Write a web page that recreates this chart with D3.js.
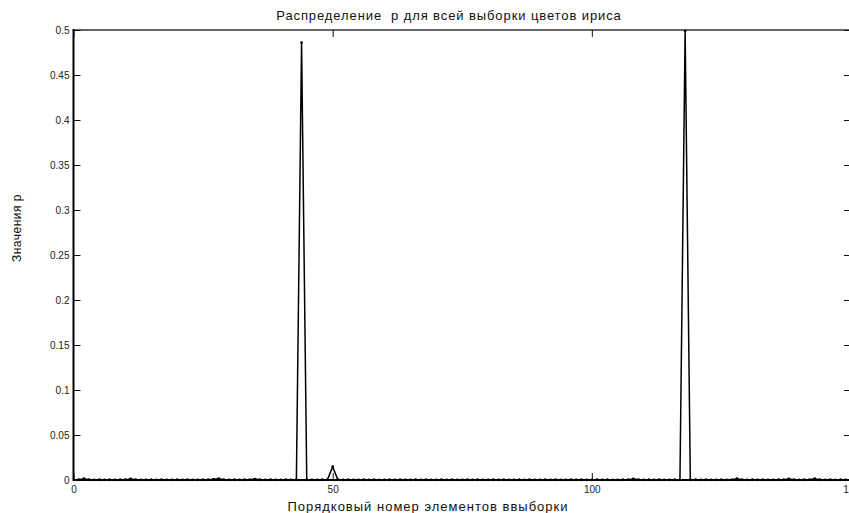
<!DOCTYPE html>
<html><head><meta charset="utf-8">
<script src="https://cdn.jsdelivr.net/npm/d3@7"></script>
<style>
html,body{margin:0;padding:0;background:#fff;}
svg{display:block;font-family:"Liberation Sans",Arial,sans-serif;}
</style></head>
<body>
<svg id="chart" width="849" height="513"></svg>
<script>
// Data (index 1..150)
const titleText = "Распределение  р для всей выборки цветов ириса";
const xLabel = "Порядковый номер элементов ввыборки";
const yLabel = "Значения р";
const xTicks = [0, 50, 100, 150];
const yTicks = [0, 0.05, 0.1, 0.15, 0.2, 0.25, 0.3, 0.35, 0.4, 0.45, 0.5];
const pValues = [
  0.0003, 0.0015, 0.0004, 0.0002, 0.0003, 0.0002, 0.0003, 0.0002, 0.0003, 0.0004,
  0.0012, 0.0003, 0.0002, 0.0002, 0.0003, 0.0002, 0.0003, 0.0002, 0.0002, 0.0003,
  0.0002, 0.0003, 0.0002, 0.0002, 0.0003, 0.0004, 0.0008, 0.0015, 0.0004, 0.0002,
  0.0003, 0.0002, 0.0003, 0.0004, 0.0010, 0.0003, 0.0002, 0.0003, 0.0002, 0.0002,
  0.0003, 0.0002, 0.0003, 0.4860, 0.0003, 0.0002, 0.0002, 0.0003, 0.0004, 0.0148,
  0.0003, 0.0002, 0.0003, 0.0002, 0.0002, 0.0003, 0.0002, 0.0003, 0.0002, 0.0002,
  0.0003, 0.0002, 0.0003, 0.0002, 0.0002, 0.0003, 0.0002, 0.0003, 0.0002, 0.0002,
  0.0003, 0.0002, 0.0003, 0.0002, 0.0002, 0.0003, 0.0002, 0.0003, 0.0002, 0.0002,
  0.0003, 0.0002, 0.0003, 0.0002, 0.0002, 0.0003, 0.0002, 0.0003, 0.0002, 0.0002,
  0.0003, 0.0002, 0.0003, 0.0002, 0.0002, 0.0003, 0.0002, 0.0003, 0.0002, 0.0002,
  0.0003, 0.0002, 0.0003, 0.0002, 0.0002, 0.0003, 0.0004, 0.0012, 0.0003, 0.0002,
  0.0003, 0.0002, 0.0003, 0.0002, 0.0002, 0.0003, 0.0002, 0.4990, 0.0002, 0.0003,
  0.0002, 0.0003, 0.0002, 0.0002, 0.0003, 0.0002, 0.0004, 0.0015, 0.0003, 0.0002,
  0.0003, 0.0002, 0.0003, 0.0002, 0.0002, 0.0003, 0.0004, 0.0012, 0.0003, 0.0002,
  0.0003, 0.0004, 0.0015, 0.0003, 0.0002, 0.0003, 0.0002, 0.0003, 0.0002, 0.0002
];
const points = pValues.map((v, i) => ({x: i + 1, y: v}));

const svg = d3.select("#chart");
const L = 73.5, R = 851, T = 30, B = 480;
const x = d3.scaleLinear().domain([0, 150]).range([L, R]);
const y = d3.scaleLinear().domain([0, 0.5]).range([B, T]);
const tickLen = 7;

// Box
svg.append("line").attr("x1", L).attr("x2", R).attr("y1", T).attr("y2", T)
  .attr("stroke", "#333").attr("stroke-width", 1.5);
svg.append("line").attr("x1", R).attr("x2", R).attr("y1", T).attr("y2", B)
  .attr("stroke", "#333").attr("stroke-width", 1.5);

// Axes (ticks inward)
const gx = svg.append("g").attr("transform", `translate(0,${B})`)
  .call(d3.axisBottom(x).tickValues(xTicks).tickSize(-tickLen).tickPadding(tickLen + 3).tickFormat(d3.format("d")));
const gxTop = svg.append("g").attr("transform", `translate(0,${T})`)
  .call(d3.axisTop(x).tickValues(xTicks).tickSize(-tickLen).tickFormat(""));
const gy = svg.append("g").attr("transform", `translate(${L},0)`)
  .call(d3.axisLeft(y).tickValues(yTicks).tickSize(-tickLen).tickPadding(4).tickFormat(d => d3.format("")(+d.toFixed(2))));
const gyR = svg.append("g").attr("transform", `translate(${R},0)`)
  .call(d3.axisRight(y).tickValues(yTicks).tickSize(-tickLen).tickFormat(""));

[gx, gxTop, gy, gyR].forEach(g => {
  g.select(".domain").remove();
  g.selectAll(".tick line").attr("stroke", "#111").attr("stroke-width", 1);
  g.selectAll("text").attr("font-size", 10).attr("fill", "#222")
    .attr("font-family", "Liberation Sans, Arial, sans-serif");
});
gx.selectAll("text").attr("dy", "0.3em");

svg.append("line").attr("x1", L).attr("x2", R).attr("y1", B).attr("y2", B)
  .attr("stroke", "#000").attr("stroke-width", 2);
svg.append("line").attr("x1", L).attr("x2", L).attr("y1", T - 1).attr("y2", B + 1)
  .attr("stroke", "#000").attr("stroke-width", 2);

// Line
const line = d3.line().x(d => x(d.x)).y(d => y(d.y));
svg.append("path").datum(points).attr("d", line)
  .attr("fill", "none").attr("stroke", "#000").attr("stroke-width", 1.5)
  .attr("stroke-linejoin", "miter");
svg.append("g").selectAll("circle").data(points).join("circle")
  .attr("cx", d => x(d.x)).attr("cy", d => y(d.y)).attr("r", 1.4).attr("fill", "#000");

// Texts
svg.append("text").attr("x", 449).attr("y", 20).attr("text-anchor", "middle")
  .attr("font-size", 13).attr("letter-spacing", 0.9).style("white-space", "pre")
  .attr("fill", "#111").text(titleText);
svg.append("text").attr("x", 428).attr("y", 511).attr("text-anchor", "middle")
  .attr("font-size", 13).attr("letter-spacing", 1).attr("fill", "#111").text(xLabel);
svg.append("text").attr("transform", "translate(21,228) rotate(-90)").attr("text-anchor", "middle")
  .attr("font-size", 12).attr("letter-spacing", 0.5).attr("fill", "#111").text(yLabel);
</script>
</body></html>
